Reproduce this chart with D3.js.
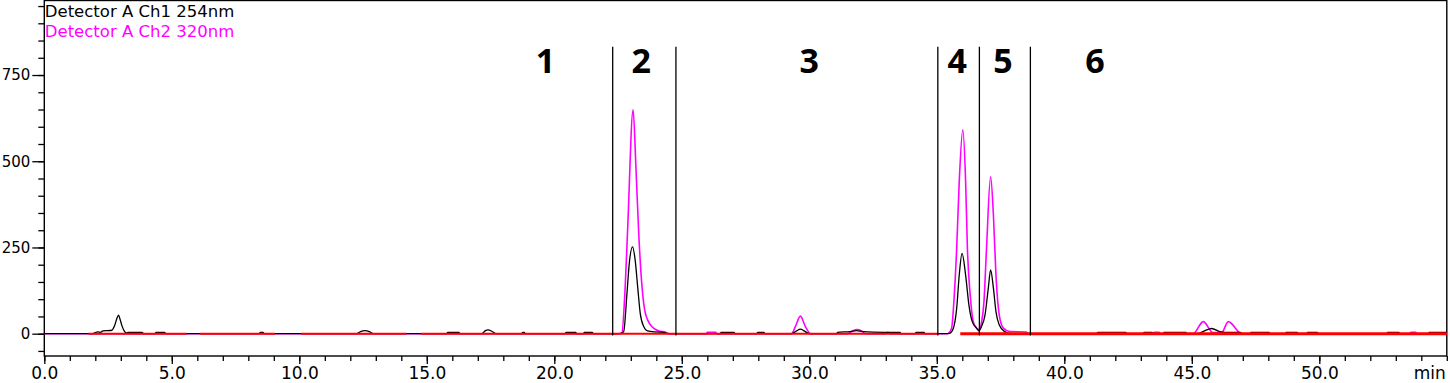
<!DOCTYPE html>
<html><head><meta charset="utf-8">
<script src="https://cdn.jsdelivr.net/npm/d3@7"></script>
<style>html,body{margin:0;padding:0;background:#fff;} svg{display:block;}</style>
</head><body>
<svg id="c" width="1450" height="383"></svg>
<script>
// ---- data (time in min, response) ----
const ch1 = [
  [0,0],[1.9,0],[2.0,3],[2.1,5],[2.2,4],[2.3,8],[2.5,9],[2.65,10],[2.75,22],[2.85,45],[2.91,54],[2.97,42],[3.05,22],[3.15,6],[3.23,2],[3.3,4],[3.83,4],[3.9,0],
  [4.34,0],[4.38,4],[4.72,4],[4.76,0],
  [8.43,0],[8.47,4],[8.58,4],[8.62,0],
  [12.25,0],[12.4,6],[12.57,9],[12.75,6],[12.9,0],
  [15.78,0],[15.82,4],[16.26,4],[16.3,0],
  [17.15,0],[17.3,9],[17.4,11],[17.55,7],[17.7,0],
  [18.72,0],[18.76,4],[18.82,4],[18.86,0],
  [20.42,0],[20.46,4],[20.84,4],[20.88,0],
  [21.14,0],[21.18,4],[21.49,4],[21.53,0],
  [22.6,0],[22.72,6],[22.85,117],[22.94,204],[23.07,252],[23.17,214],[23.28,127],[23.37,59],[23.51,20],[23.65,8],[23.95,5],[24.3,4],[24.45,0],
  [26.5,0],[26.54,4],[27.05,4],[27.09,0],
  [27.94,0],[27.98,4],[28.22,4],[28.26,0],
  [29.3,0],[29.5,8],[29.65,13],[29.8,8],[30.0,0],
  [31.07,0],[31.11,4],[31.6,6],[31.85,9],[32.1,6],[32.9,4],[33.56,4],[33.6,0],
  [34.15,0],[34.19,4],[34.5,4],[34.54,0],
  [35.4,0],[35.5,1],[35.65,16],[35.78,74],[35.88,170],[35.99,233],[36.13,170],[36.26,83],[36.39,35],[36.56,16],[36.65,8],[36.76,22],[36.89,54],[37.02,132],[37.11,185],[37.22,132],[37.32,64],[37.45,25],[37.66,6],[37.9,0],
  [41.27,0],[41.31,4],[42.41,4],[42.45,0],
  [43.09,0],[43.13,4],[43.44,4],[43.48,0],
  [43.87,0],[43.91,4],[44.77,4],[44.81,0],
  [45.2,0],[45.5,8],[45.78,15],[46.1,6],[46.3,4],[46.9,4],[47.0,0],
  [47.28,0],[47.32,4],[48.03,4],[48.07,0],
  [48.66,0],[48.7,4],[49.13,4],[49.17,0],
  [49.5,0],[49.54,4],[49.92,4],[49.96,0],
  [52.64,0],[52.68,4],[53.12,4],[53.16,0],
  [54.27,0],[54.31,4],[54.9,4],[55,4]
];
const ch2 = [
  [0,0],[22.5,0],[22.65,3],[22.78,136],[22.88,310],[23.09,649],[23.2,484],[23.31,292],[23.44,136],[23.57,60],[23.83,20],[24.1,8],[24.34,5],[24.5,0],
  [25.97,0],[26.0,4],[26.33,4],[26.37,0],
  [29.3,0],[29.45,20],[29.65,51],[29.85,20],[30.05,0],
  [31.5,0],[31.7,8],[31.86,12],[32.05,8],[32.2,0],
  [33.0,0],[33.08,4],[33.16,0],
  [35.4,0],[35.45,1],[35.58,16],[35.67,93],[35.78,248],[35.88,441],[36.02,591],[36.13,441],[36.2,248],[36.31,112],[36.43,35],[36.56,16],[36.65,12],[36.76,35],[36.85,93],[36.95,248],[37.11,455],[37.22,344],[37.32,170],[37.45,54],[37.61,16],[37.87,6],[38.5,5],[38.6,0],
  [43.48,0],[43.52,4],[43.72,4],[43.76,0],
  [45.05,0],[45.45,35],[45.83,3],[46.17,3],[46.43,35],[46.96,0],
  [53.55,0],[53.59,4],[53.78,4],[53.82,0],[55,0]
];
const redBaseline = [[1.73,5.58],[6.10,9.05],[10.07,14.20],[14.76,35.06],[35.92,55]];
const dividerTimes = [22.29,24.77,35.04,36.67,38.67];
const regionLabels = ["1","2","3","4","5","6"];
const regionLabelTimes = [19.65,23.41,30.0,35.8,37.6,41.2];
const xMajorTicks = [0,5,10,15,20,25,30,35,40,45,50];
const xMinorTicks = d3.range(0,56,1);
const yMajorTicks = [0,250,500,750];
const yMinorTicks = d3.range(-50,951,50);
const legendLabels = ["Detector A Ch1 254nm","Detector A Ch2 320nm"];
const xDomain = [0,55];
const yDomain = [-64.7,966.1];
const dividerRange = [-5,832];
const regionLabelLevel = 756;

// ---- layout ----
const L=44.3, R=1446.8, T=0.5, B=356;
const svg = d3.select("#c");
const x = d3.scaleLinear().domain(xDomain).range([L,R]);
const y = d3.scaleLinear().domain(yDomain).range([B,T]);
const font = "'DejaVu Sans', sans-serif";

svg.append("defs").append("clipPath").attr("id","clip")
  .append("rect").attr("x",L).attr("y",T).attr("width",R-L).attr("height",B-T);

// axes
const gxMinor = svg.append("g").attr("transform",`translate(0,${B})`)
  .call(d3.axisBottom(x).tickValues(xMinorTicks).tickSize(5).tickFormat(""));
const gxMajor = svg.append("g").attr("transform",`translate(0,${B})`)
  .call(d3.axisBottom(x).tickValues(xMajorTicks).tickSize(8).tickPadding(3).tickFormat(d3.format(".1f")));
const gyMinor = svg.append("g").attr("transform",`translate(${L},0)`)
  .call(d3.axisLeft(y).tickValues(yMinorTicks).tickSize(6).tickFormat(""));
const gyMajor = svg.append("g").attr("transform",`translate(${L},0)`)
  .call(d3.axisLeft(y).tickValues(yMajorTicks).tickSize(12).tickPadding(2).tickFormat(d3.format("d")));
[gxMinor,gxMajor,gyMinor,gyMajor].forEach(g=>{
  g.select(".domain").remove();
  g.selectAll("line").attr("stroke","#000").attr("stroke-width",1.3);
  g.selectAll("text").attr("font-family",font).attr("font-size",17).attr("fill","#000");
});
gyMajor.selectAll("text").attr("font-size",15);
svg.append("text").attr("x",R-1).attr("y",379).attr("text-anchor","end")
  .attr("font-family",font).attr("font-size",17).text("min");

// frame
svg.append("rect").attr("x",L).attr("y",T).attr("width",R-L).attr("height",B-T)
  .attr("fill","none").attr("stroke","#000").attr("stroke-width",1.4);

const plot = svg.append("g").attr("clip-path","url(#clip)");
const line = d3.line().x(d=>x(d[0])).y(d=>y(d[1])).curve(d3.curveMonotoneX);

plot.append("path").datum(ch2).attr("d",line).attr("fill","none").attr("stroke","#ff00ff").attr("stroke-width",1.6);
plot.append("path").datum(ch1).attr("d",line).attr("fill","none").attr("stroke","#000").attr("stroke-width",1.3);

plot.selectAll(".rb").data(redBaseline).enter().append("line")
  .attr("x1",d=>x(d[0])).attr("x2",d=>x(d[1])).attr("y1",y(0)).attr("y2",y(0))
  .attr("stroke","#ff0000").attr("stroke-width",(d,i)=> i===redBaseline.length-1 ? 3 : 2);

// dividers
plot.selectAll(".dv").data(dividerTimes).enter().append("line")
  .attr("x1",d=>x(d)).attr("x2",d=>x(d)).attr("y1",y(dividerRange[1])).attr("y2",y(dividerRange[0]))
  .attr("stroke","#000").attr("stroke-width",1.3);

// region labels
svg.selectAll(".rl").data(regionLabels).enter().append("text")
  .attr("x",(d,i)=>x(regionLabelTimes[i])).attr("y",y(regionLabelLevel))
  .attr("text-anchor","middle").attr("font-family","'Open Sans', sans-serif")
  .attr("font-weight","bold").attr("font-size",34).attr("fill","#000").text(d=>d);

// legend
const legendColors = ["#000","#ff00ff"];
svg.selectAll(".lg").data(legendLabels).enter().append("text")
  .attr("x",L+0.5).attr("y",(d,i)=>17+i*20)
  .attr("font-family",font).attr("font-size",16.5).attr("fill",(d,i)=>legendColors[i]).text(d=>d);
</script>
</body></html>
